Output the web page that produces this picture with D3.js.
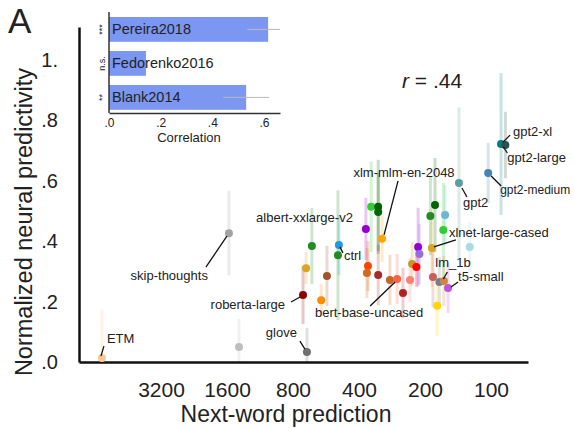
<!DOCTYPE html>
<html>
<head>
<meta charset="utf-8">
<script src="https://cdn.jsdelivr.net/npm/d3@7"></script>
<style>
body { margin: 0; background: #fff; }
text { font-family: "Liberation Sans", Arial, Helvetica, sans-serif; fill: #222; }
</style>
</head>
<body>
<div id="graphic"></div>
<script>
// DATA
var models = ["ETM","","glove","skip-thoughts","albert-xxlarge-v2","","","roberta-large","","ctrl",
  "","","","","","xlm-mlm-en-2048","","","","",
  "bert-base-uncased","","","","","","","","","",
  "","xlnet-large-cased","","","lm_1b","","t5-small","","gpt2","gpt2-medium",
  "gpt2-xl","gpt2-large"];
var perplexity = [5950,1410,691,1568,656,697,560,720,595,494,
  499,352,327,327,372,314,364,368,327,289,
  268,252,234,229,219,215,212,180,189,162,
  165,186,125,184,172,164,157,176,140,103,
  90,86];
var score = [0.013,0.05,0.033,0.427,0.384,0.311,0.285,0.222,0.205,0.388,
  0.354,0.514,0.514,0.497,0.441,0.408,0.318,0.295,0.288,0.272,
  0.275,0.229,0.272,0.325,0.315,0.381,0.358,0.52,0.484,0.487,
  0.437,0.378,0.381,0.282,0.265,0.268,0.245,0.186,0.593,0.626,
  0.722,0.719];
var scoreErr = [0.16,0.093,0.08,0.14,0.126,0.053,0.1,0.096,0.053,0.1,
  0.215,0.15,0.156,0.13,0.103,0.076,0.083,0.083,0.1,0.083,
  0.083,0.083,0.073,0.073,0.066,0.13,0.1,0.156,0.13,0.1,
  0.156,0.13,0.083,0.1,0.083,0.083,0.083,0.1,0.25,0.1,
  0.235,0.11];
var colors = ["#f9c995","#bdbdbd","#707070","#a3a3a3","#228b22","#daa520","#a0522d","#8b0000","#ff8c00","#1e9be0",
  "#228b22","#32cd32","#006400","#006400","#9400d3","#ffa500","#ff4500","#d2691e","#a52a2a","#c8642a",
  "#ff6347","#b22222","#fa8072","#c8961e","#ff0000","#9400d3","#9370db","#006400","#228b22","#6bb8d4",
  "#32cd32","#daa520","#add8e6","#cd5c5c","#708090","#cd853f","#ba55d3","#ffd700","#5f9ea0","#4682b4",
  "#008080","#2f4f4f"];

var xTicks = [3200,1600,800,400,200,100];
var yTicks = [0,0.2,0.4,0.6,0.8,1];

var datasets = ["Pereira2018","Fedorenko2016","Blank2014"];
var correlation = [0.616,0.143,0.531];
var corrLow = [0.535,null,0.442];
var corrHigh = [0.662,null,0.62];
var significance = ["***","n.s.","**"];
var insetTicks = [0,0.2,0.4,0.6];

var rValue = ".44";

// label placement relative to the dot: text offset, anchor, leader line
var annot = {
  "ETM":               {dx:5,   dy:-15, a:"start",  l:[2,-12,-1,-2]},
  "glove":             {dx:-10, dy:-15, a:"end",    l:[-7,-11,-2,-3]},
  "skip-thoughts":     {dx:-21, dy:47,  a:"end",    l:[-23,34,-2,3]},
  "roberta-large":     {dx:-18, dy:14,  a:"end",    l:[-12,7,-3,2]},
  "albert-xxlarge-v2": {dx:41,  dy:-24, a:"end",    l:null},
  "ctrl":              {dx:5,   dy:15,  a:"start",  l:[1,2,4,8]},
  "xlm-mlm-en-2048":   {dx:22,  dy:-62, a:"middle", l:[16,-58,2,-4]},
  "gpt2":              {dx:4,   dy:24,  a:"start",  l:[3,5,8,14]},
  "gpt2-medium":       {dx:12,  dy:21,  a:"start",  l:[3,3,13,13], fs:12},
  "gpt2-xl":           {dx:12,  dy:-8,  a:"start",  l:[2,-2,9,-9]},
  "gpt2-large":        {dx:2,   dy:17,  a:"start",  l:[-2,2,2,8]},
  "xlnet-large-cased": {dx:17,  dy:-11, a:"start",  l:[2,-1,24,-8]},
  "lm_1b":             {dx:-4,  dy:-15, a:"start",  l:[4,-3,8,-10]},
  "t5-small":          {dx:10,  dy:-7,  a:"start",  l:[3,-1,10,-6]},
  "bert-base-uncased": {dx:-28, dy:38,  a:"middle", l:[-27,27,-2,3]}
};

var data = models.map(function(m, i) {
  return {name: m, ppl: perplexity[i], s: score[i], e: scoreErr[i], c: colors[i]};
});

var W = 574, H = 428;
var svg = d3.select("#graphic").append("svg")
  .attr("width", W).attr("height", H);

// scales
var x = d3.scaleLog().domain([7570, 67.8]).range([79, 528]);
var y = d3.scaleLinear().domain([0, 1.11]).range([362, 27]);

var fmt = function(v) {
  if (v === 1) return "1.";
  return d3.format(".1f")(v).replace(/^0/, "");
};

svg.append("defs").append("clipPath").attr("id", "plotclip")
  .append("rect").attr("x", 79).attr("y", 27).attr("width", 449).attr("height", 335);

// error bars
svg.append("g").attr("clip-path", "url(#plotclip)")
  .selectAll("line").data(data).enter().append("line")
  .attr("x1", d => x(d.ppl)).attr("x2", d => x(d.ppl))
  .attr("y1", d => y(d.s - d.e)).attr("y2", d => y(d.s + d.e))
  .attr("stroke", d => d.c)
  .attr("stroke-opacity", 0.22)
  .attr("stroke-width", 3);

// axes
var xAxis = d3.axisBottom(x).tickValues(xTicks).tickFormat(d3.format("d"))
  .tickSize(0).tickPadding(20);
var gx = svg.append("g").attr("transform", "translate(0,362)").call(xAxis);
gx.select(".domain").attr("stroke", "#111").attr("stroke-width", 2.5);
gx.selectAll("text").style("font-size", "21px").attr("fill", "#222");

var yAxis = d3.axisLeft(y).tickValues(yTicks).tickFormat(fmt)
  .tickSize(0).tickPadding(21);
var gy = svg.append("g").attr("transform", "translate(79,0)").call(yAxis);
gy.select(".domain").attr("stroke", "#111").attr("stroke-width", 2.5);
gy.selectAll("text").style("font-size", "20px").attr("fill", "#222");

svg.append("text").attr("x", 286).attr("y", 422).attr("text-anchor", "middle")
  .style("font-size", "23px").text("Next-word prediction");
svg.append("text").attr("transform", "translate(32,222) rotate(-90)")
  .attr("text-anchor", "middle").style("font-size", "23.5px")
  .text("Normalized neural predictivity");

svg.append("text").attr("x", 8).attr("y", 33).style("font-size", "35px")
  .attr("fill", "#000").text("A");

var rt = svg.append("text").attr("x", 402).attr("y", 88).style("font-size", "21px");
rt.append("tspan").style("font-style", "italic").text("r");
rt.append("tspan").text(" = " + rValue);

// dots
svg.append("g").selectAll("circle").data(data).enter().append("circle")
  .attr("cx", d => x(d.ppl)).attr("cy", d => y(d.s))
  .attr("r", 4)
  .attr("fill", d => d.c);

// labels
var labeled = data.filter(d => annot[d.name]);
var lg = svg.append("g");
labeled.forEach(function(d) {
  var a = annot[d.name], px = x(d.ppl), py = y(d.s);
  if (a.l) {
    lg.append("line")
      .attr("x1", px + a.l[0]).attr("y1", py + a.l[1])
      .attr("x2", px + a.l[2]).attr("y2", py + a.l[3])
      .attr("stroke", "#111").attr("stroke-width", 1.3);
  }
  lg.append("text").attr("x", px + a.dx).attr("y", py + a.dy)
    .attr("text-anchor", a.a).style("font-size", (a.fs || 13) + "px").text(d.name);
});

// INSET bar chart
var ix = d3.scaleLinear().domain([0, 0.662]).range([109, 280]);
var iy = d3.scaleBand().domain(datasets).range([13.6, 113.2])
  .paddingInner(0.27).paddingOuter(0.1);

var inset = svg.append("g");
inset.selectAll("rect").data(datasets).enter().append("rect")
  .attr("x", ix(0)).attr("y", d => iy(d))
  .attr("width", (d, i) => ix(correlation[i]) - ix(0))
  .attr("height", iy.bandwidth())
  .attr("fill", "#7b97f2");

datasets.forEach(function(d, i) {
  if (corrLow[i] !== null) {
    inset.append("line")
      .attr("x1", ix(corrLow[i])).attr("x2", ix(corrHigh[i]))
      .attr("y1", iy(d) + iy.bandwidth() / 2).attr("y2", iy(d) + iy.bandwidth() / 2)
      .attr("stroke", "#b8b8b8").attr("stroke-width", 1);
  }
  inset.append("text").attr("x", ix(0) + 3).attr("y", iy(d) + iy.bandwidth() / 2)
    .attr("dy", "0.35em").style("font-size", "14.5px").attr("fill", "#111").text(d);
  inset.append("text")
    .attr("transform", "translate(" + 105 + "," + (iy(d) + iy.bandwidth() / 2) + ") rotate(-90)")
    .attr("text-anchor", "middle").style("font-size", "9px").attr("fill", "#444")
    .text(significance[i]);
});

var ixAxis = d3.axisBottom(ix).tickValues(insetTicks).tickFormat(fmt)
  .tickSize(0).tickPadding(5);
var gix = inset.append("g").attr("transform", "translate(0,113)").call(ixAxis);
gix.select(".domain").attr("stroke", "#333").attr("stroke-width", 1.5);
gix.selectAll("text").style("font-size", "12px").attr("fill", "#333");

inset.append("line").attr("x1", 109).attr("x2", 109).attr("y1", 12).attr("y2", 113)
  .attr("stroke", "#333").attr("stroke-width", 1.5);

inset.append("text").attr("x", 189).attr("y", 142).attr("text-anchor", "middle")
  .style("font-size", "13px").attr("fill", "#333").text("Correlation");
</script>
</body>
</html>
